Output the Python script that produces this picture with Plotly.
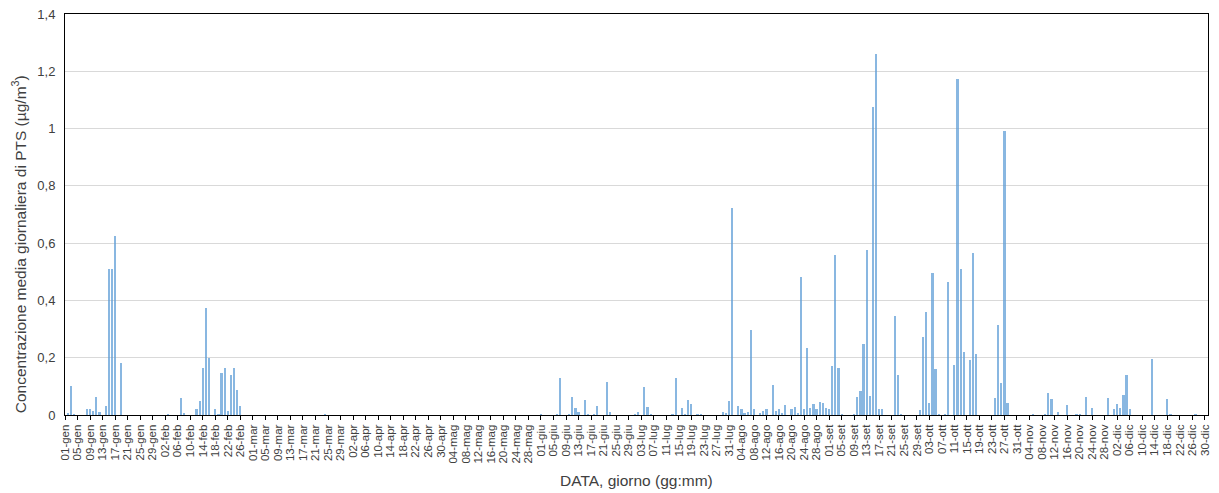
import datetime as dt
import plotly.graph_objects as go

# Daily mean PTS concentration (µg/m³), year 2020; day index 0 = 01-gen
days = [1, 2, 3, 7, 8, 9, 10, 11, 13, 14, 15, 16, 18,
        33, 37, 38, 42, 43, 44, 45, 46, 48, 49, 50, 51, 52, 53, 54, 55, 56,
        83,
        152, 157, 158, 161, 162, 163, 164, 166, 167, 169, 170, 173, 174,
        182, 183, 185, 186, 187, 194, 195, 197, 198, 199, 200, 202, 203,
        210, 211, 212, 213, 215, 216, 217, 218, 219, 220, 222, 223, 224,
        226, 227, 228, 229, 230, 232, 233, 234, 235, 236, 237, 238, 239,
        240, 241, 242, 243, 244, 245, 246, 247, 248,
        252, 253, 254, 255, 256, 257, 258, 259, 260, 261, 265, 266, 267,
        273, 274, 275, 276, 277, 278, 279, 281, 282, 284, 285, 286, 287,
        289, 290, 291, 297, 298, 299, 300, 301,
        309, 313, 314, 315, 317, 320, 323, 324, 326, 328,
        333, 335, 336, 337, 338, 339, 340, 347, 352, 353, 361]
values = [0.008, 0.100, 0.005, 0.020, 0.020, 0.013, 0.064, 0.012, 0.033, 0.509, 0.509, 0.625, 0.183,
          0.005, 0.058, 0.006, 0.020, 0.050, 0.163, 0.375, 0.198, 0.020, 0.005, 0.148, 0.163, 0.015, 0.139, 0.163, 0.087, 0.033,
          0.005,
          0.005, 0.005, 0.128, 0.005, 0.064, 0.026, 0.010, 0.052, 0.005, 0.005, 0.033, 0.115, 0.010,
          0.005, 0.012, 0.097, 0.029, 0.005, 0.005, 0.128, 0.024, 0.005, 0.052, 0.038, 0.005, 0.005,
          0.012, 0.008, 0.049, 0.724, 0.033, 0.021, 0.006, 0.012, 0.297, 0.021, 0.008, 0.014, 0.021,
          0.105, 0.014, 0.021, 0.006, 0.034, 0.021, 0.029, 0.006, 0.481, 0.021, 0.233, 0.026, 0.037,
          0.021, 0.045, 0.041, 0.026, 0.021, 0.171, 0.559, 0.163, 0.005,
          0.005, 0.064, 0.084, 0.248, 0.575, 0.067, 1.077, 1.260, 0.020, 0.021, 0.347, 0.140, 0.005,
          0.019, 0.274, 0.361, 0.042, 0.497, 0.159, 0.005, 0.005, 0.466, 0.176, 1.172, 0.510, 0.219,
          0.191, 0.564, 0.214, 0.058, 0.314, 0.113, 0.992, 0.043,
          0.005, 0.005, 0.077, 0.056, 0.010, 0.034, 0.005, 0.005, 0.064, 0.024,
          0.060, 0.020, 0.037, 0.024, 0.069, 0.140, 0.020, 0.194, 0.056, 0.005, 0.005]

year_start = dt.date(2020, 1, 1)
n_days = 366
month_abbr = ["gen", "feb", "mar", "apr", "mag", "giu", "lug", "ago", "set", "ott", "nov", "dic"]
tick_days = list(range(0, n_days, 4))
tick_labels = []
for d in tick_days:
    date = year_start + dt.timedelta(days=d)
    tick_labels.append(f"{date.day:02d}-{month_abbr[date.month - 1]}")

y_ticks = [0, 0.2, 0.4, 0.6, 0.8, 1.0, 1.2, 1.4]

x_title = "DATA, giorno (gg:mm)"
y_title = "Concentrazione media giornaliera di PTS (µg/m<sup>3</sup>)"

font = "Liberation Sans, Arial, sans-serif"

fig = go.Figure()
fig.add_trace(go.Bar(
    x=days, y=values, width=0.7,
    marker=dict(color="rgba(91,155,213,0.72)", line=dict(width=0)),
))

fig.update_layout(
    width=1219, height=493,
    margin=dict(l=65, r=11, t=14, b=78, autoexpand=False),
    plot_bgcolor="white", paper_bgcolor="white",
    separators=",.",
    showlegend=False,
    font=dict(family=font, color="#404040"),
    bargap=0,
)
fig.update_xaxes(
    range=[0, 365], tickmode="array", tickvals=tick_days, ticktext=tick_labels,
    tickangle=-90, tickfont=dict(size=11.5, color="#404040"),
    ticks="outside", ticklen=4, tickcolor="black", tickwidth=1,
    showline=True, linecolor="black", linewidth=1, mirror=True,
    showgrid=False, zeroline=False, automargin=False,
)
fig.update_yaxes(
    range=[0, 1.4], tickmode="array", tickvals=y_ticks,
    tickfont=dict(size=13, color="#404040"),
    showline=True, linecolor="black", linewidth=1, mirror=True,
    showgrid=True, gridcolor="#d9d9d9", gridwidth=1, zeroline=False,
    ticks="", ticklabelstandoff=6, automargin=False,
)
fig.add_annotation(
    text=y_title, textangle=-90, showarrow=False,
    xref="paper", yref="paper", x=-0.0405, y=0.425,
    xanchor="center", yanchor="middle",
    font=dict(size=15.5, color="#404040", family=font),
)
fig.add_annotation(
    text=x_title, showarrow=False,
    xref="paper", yref="paper", x=0.5, y=-0.163,
    xanchor="center", yanchor="middle",
    font=dict(size=15.5, color="#404040", family=font),
)

fig.write_html("out.html")
